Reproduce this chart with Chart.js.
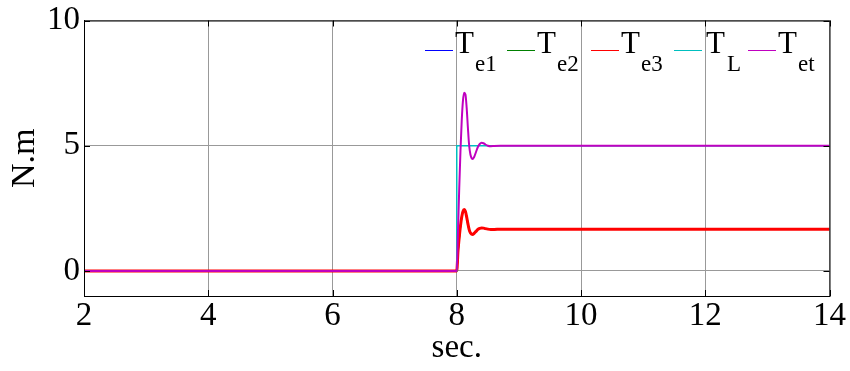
<!DOCTYPE html>
<html>
<head>
<meta charset="utf-8">
<script src="https://cdn.jsdelivr.net/npm/chart.js@4.4.1/dist/chart.umd.min.js"></script>
<style>
    html, body { margin: 0; padding: 0; background: #fff; }
    #wrap { width: 850px; height: 371px; }
</style>
</head>
<body>
<div id="wrap"><canvas id="torqueChart" width="850" height="371"></canvas></div>
<script>
// time axis (sec.) for the machine torques
const timeSec = [2, 8.0, 8.02, 8.04, 8.06, 8.08, 8.1, 8.12, 8.14, 8.16, 8.18, 8.2, 8.22, 8.24, 8.26, 8.28,
    8.31, 8.34, 8.37, 8.4, 8.43, 8.46, 8.5, 8.55, 8.6, 8.7, 9, 10, 11, 12, 13, 14];

// electromagnetic torques of the three machines (N.m)
const te1 = [0, 0, 0.75, 1.3, 1.8, 2.15, 2.38, 2.45, 2.38, 2.15, 1.88, 1.65, 1.52, 1.47, 1.46, 1.5,
    1.58, 1.66, 1.7, 1.72, 1.71, 1.69, 1.67, 1.66, 1.66, 1.67, 1.67, 1.67, 1.67, 1.67, 1.67, 1.67];
const te2 = [0, 0, 0.7, 1.25, 1.78, 2.14, 2.37, 2.45, 2.38, 2.15, 1.88, 1.65, 1.52, 1.47, 1.46, 1.5,
    1.58, 1.66, 1.7, 1.72, 1.71, 1.69, 1.67, 1.66, 1.66, 1.67, 1.67, 1.67, 1.67, 1.67, 1.67, 1.67];
const te3 = [0, 0, 0.8, 1.35, 1.8, 2.15, 2.38, 2.45, 2.38, 2.15, 1.88, 1.65, 1.52, 1.47, 1.46, 1.5,
    1.58, 1.66, 1.7, 1.72, 1.71, 1.69, 1.67, 1.66, 1.66, 1.67, 1.67, 1.67, 1.67, 1.67, 1.67, 1.67];
// total torque
const tet = [0, 0, 1.6, 3.3, 4.8, 6.0, 6.8, 7.12, 7.05, 6.5, 5.7, 5.0, 4.65, 4.5, 4.47, 4.55,
    4.75, 4.95, 5.07, 5.12, 5.1, 5.05, 5.0, 4.98, 4.99, 5.0, 5.0, 5.0, 5.0, 5.0, 5.0, 5.0];

// load torque step
const loadTime = [2, 8, 8, 14];
const loadTorque = [0, 0, 5, 5];

const xTicks = [2, 4, 6, 8, 10, 12, 14];
const yTicks = [0, 5, 10];

const seriesNames = ['Te1', 'Te2', 'Te3', 'TL', 'Tet'];
const seriesColors = ['#0000ff', '#008000', '#ff0000', '#00bfbf', '#c000c0'];

const serif = '"Liberation Serif", "Times New Roman", serif';

function pairs(xs, ys) {
    return xs.map((x, i) => ({ x: x, y: ys[i] }));
}

// frame, inward ticks and the MATLAB-style legend with subscripts
const framePlugin = {
    id: 'frame',
    afterDraw(chart) {
        const { ctx, chartArea: a, scales } = chart;
        ctx.save();
        ctx.strokeStyle = '#000';
        ctx.lineWidth = 1;
        ctx.strokeRect(a.left + 0.5, a.top + 0.5, a.right - a.left, a.bottom - a.top);
        ctx.beginPath();
        xTicks.forEach(v => {
            const px = Math.round(scales.x.getPixelForValue(v)) + 0.5;
            ctx.moveTo(px, a.bottom); ctx.lineTo(px, a.bottom - 6);
            ctx.moveTo(px, a.top); ctx.lineTo(px, a.top + 6);
        });
        yTicks.forEach(v => {
            const py = Math.round(scales.y.getPixelForValue(v)) + 0.5;
            ctx.moveTo(a.left, py); ctx.lineTo(a.left + 6, py);
            ctx.moveTo(a.right, py); ctx.lineTo(a.right - 6, py);
        });
        ctx.stroke();

        // legend entries: sample line, big T, subscript
        const entryX = [425, 507, 591, 674, 748];
        const lineY = 50;
        seriesNames.forEach((name, i) => {
            const x = entryX[i];
            ctx.strokeStyle = seriesColors[i];
            ctx.lineWidth = 1;
            ctx.beginPath();
            ctx.moveTo(x, lineY + 0.5);
            ctx.lineTo(x + 28, lineY + 0.5);
            ctx.stroke();
            ctx.fillStyle = '#000';
            ctx.textBaseline = 'alphabetic';
            ctx.font = '31px ' + serif;
            const tx = x + (name === 'TL' ? 32 : 30);
            ctx.fillText('T', tx, 53);
            ctx.font = '23px ' + serif;
            ctx.fillText(name.slice(1), tx + (name === 'TL' ? 21 : 20), 71);
        });
        ctx.restore();
    }
};

new Chart(document.getElementById('torqueChart'), {
    type: 'line',
    data: {
        datasets: [
            { label: 'Te1', data: pairs(timeSec, te1), borderColor: seriesColors[0], borderWidth: 1.5, order: 5 },
            { label: 'Te2', data: pairs(timeSec, te2), borderColor: seriesColors[1], borderWidth: 1.5, order: 4 },
            { label: 'Te3', data: pairs(timeSec, te3), borderColor: seriesColors[2], borderWidth: 3, order: 3 },
            { label: 'TL', data: pairs(loadTime, loadTorque), borderColor: seriesColors[3], borderWidth: 1.5, tension: 0, order: 2 },
            { label: 'Tet', data: pairs(timeSec, tet), borderColor: seriesColors[4], borderWidth: 2, order: 1 }
        ]
    },
    options: {
        responsive: false,
        animation: false,
        devicePixelRatio: 1,
        layout: { padding: { left: 0, right: 20, top: 16, bottom: 0 } },
        elements: {
            point: { radius: 0 },
            line: { cubicInterpolationMode: 'monotone', fill: false }
        },
        plugins: {
            legend: { display: false },
            tooltip: { enabled: false }
        },
        scales: {
            x: {
                type: 'linear',
                min: 2,
                max: 14,
                afterBuildTicks: s => { s.ticks = xTicks.map(v => ({ value: v })); },
                afterFit: s => { s.height = 75; },
                grid: { color: '#999', drawTicks: false },
                border: { color: '#000' },
                ticks: { color: '#000', padding: 4, font: { family: serif, size: 33, lineHeight: 1 } },
                title: { display: true, text: 'sec.', color: '#000', padding: { top: 0, bottom: 3 }, font: { family: serif, size: 33 } }
            },
            y: {
                min: -1,
                max: 10,
                afterBuildTicks: s => { s.ticks = yTicks.map(v => ({ value: v })); },
                afterFit: s => { s.width = 84; },
                grid: { color: '#999', drawTicks: false },
                border: { color: '#000' },
                ticks: { color: '#000', padding: 4, font: { family: serif, size: 33, lineHeight: 1 } },
                title: { display: true, text: 'N.m', color: '#000', padding: { top: 5, bottom: 0 }, font: { family: serif, size: 34 } }
            }
        }
    },
    plugins: [framePlugin]
});
</script>
</body>
</html>
